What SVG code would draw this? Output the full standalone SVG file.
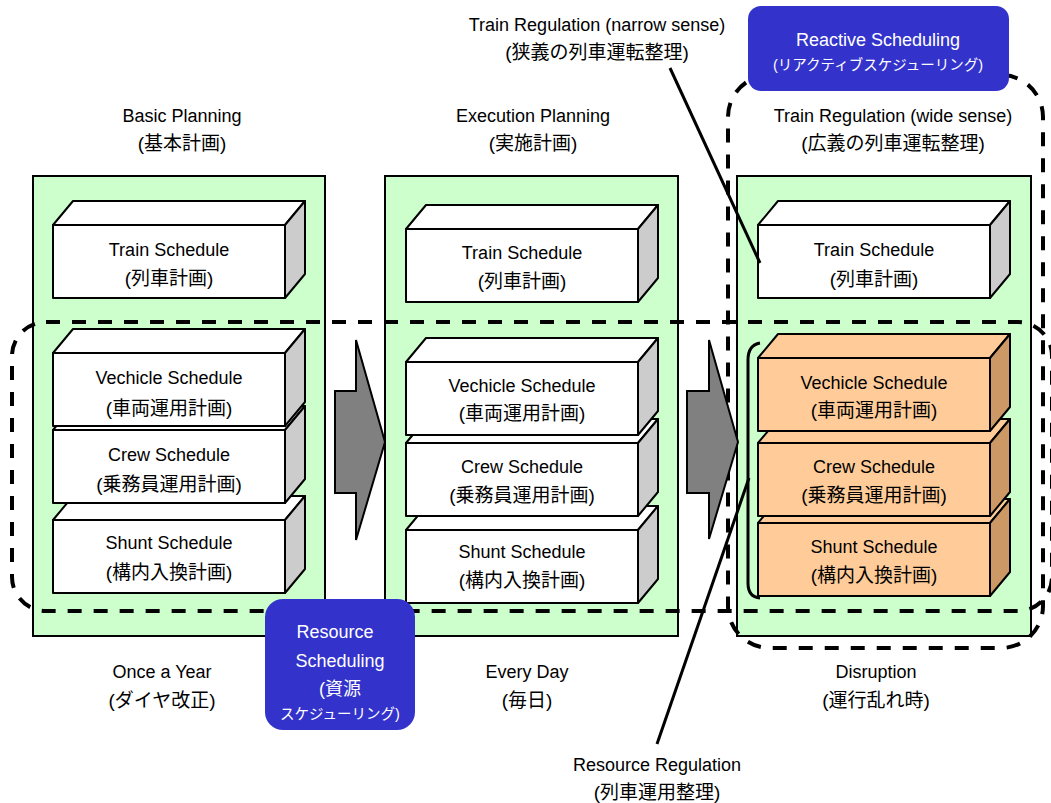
<svg xmlns="http://www.w3.org/2000/svg" xmlns:xlink="http://www.w3.org/1999/xlink" width="1051" height="803" viewBox="0 0 1051 803">
  <style>
    text { font-family: "Liberation Sans", "Noto Sans CJK JP", sans-serif; font-size: 18px; fill: #000; text-anchor: middle; }
    .jp { font-size: 19px; }
    .inv { fill: #fff; }
    .sm { font-size: 14.5px; }
    .panel { fill: #ccffcc; stroke: #000; stroke-width: 2; }
    .front, .top, .side { stroke: #000; stroke-width: 2; stroke-linejoin: round; }
    .front, .top { fill: #fff; }
    .side { fill: #cccccc; }
    .front-o, .top-o { fill: #ffcc99; stroke: #000; stroke-width: 2; stroke-linejoin: round; }
    .side-o { fill: #cc9966; stroke: #000; stroke-width: 2; stroke-linejoin: round; }
    .dash { fill: none; stroke: #000; stroke-width: 4; stroke-dasharray: 14 12; }
    .arrow { fill: #808080; stroke: #000; stroke-width: 2; stroke-linejoin: miter; }
    .line { fill: none; stroke: #000; stroke-width: 3; }
    .blue { fill: #3333cc; }
  </style>
  <defs>
    <!-- 3D schedule block, front face at origin -->
    <g id="cube">
      <polygon class="top" points="0,0 20,-24 252,-24 232,0"/>
      <polygon class="side" points="232,0 252,-24 252,49 232,73"/>
      <rect class="front" x="0" y="0" width="232" height="73"/>
    </g>
    <!-- same block, highlighted as rescheduled -->
    <g id="cube-o">
      <polygon class="top-o" points="0,0 20,-24 252,-24 232,0"/>
      <polygon class="side-o" points="232,0 252,-24 252,49 232,73"/>
      <rect class="front-o" x="0" y="0" width="232" height="73"/>
    </g>
  </defs>

  <!-- planning stage panels -->
  <g id="panel-basic"><rect class="panel" x="33" y="176" width="292" height="460"/></g>
  <g id="panel-execution"><rect class="panel" x="385" y="176" width="293" height="460"/></g>
  <g id="panel-disruption"><rect class="panel" x="737" y="176" width="294" height="460"/></g>

  <!-- scheduling scope outlines -->
  <g id="scope-wide-sense"><rect class="dash" x="728" y="75" width="315" height="573" rx="42" ry="42"/></g>
  <g id="scope-resource"><rect class="dash" x="12" y="322" width="1040" height="289" rx="34" ry="34"/></g>

  <!-- flow arrows -->
  <g id="arrow-1"><polygon class="arrow" points="335,391 356,391 356,340 385,442 356,540 356,493 335,493"/></g>
  <g id="arrow-2"><polygon class="arrow" points="687,391 709,391 709,340 738,442 709,539 709,493 687,493"/></g>

  <!-- Basic planning blocks -->
  <g id="basic-train" transform="translate(53,225)">
    <use xlink:href="#cube"/>
    <text x="116" y="31">Train Schedule</text>
    <text class="jp" x="116" y="60">(列車計画)</text>
  </g>
  <g id="basic-shunt" transform="translate(53,520)">
    <use xlink:href="#cube"/>
    <text x="116" y="29">Shunt Schedule</text>
    <text class="jp" x="116" y="59">(構内入換計画)</text>
  </g>
  <g id="basic-crew" transform="translate(53,430)">
    <use xlink:href="#cube"/>
    <text x="116" y="31">Crew Schedule</text>
    <text class="jp" x="116" y="61">(乗務員運用計画)</text>
  </g>
  <g id="basic-vehicle" transform="translate(53,353)">
    <use xlink:href="#cube"/>
    <text x="116" y="31">Vechicle Schedule</text>
    <text class="jp" x="116" y="62">(車両運用計画)</text>
  </g>

  <!-- Execution planning blocks -->
  <g id="exec-train" transform="translate(406,229)">
    <use xlink:href="#cube"/>
    <text x="116" y="30">Train Schedule</text>
    <text class="jp" x="116" y="59">(列車計画)</text>
  </g>
  <g id="exec-shunt" transform="translate(406,530)">
    <use xlink:href="#cube"/>
    <text x="116" y="28">Shunt Schedule</text>
    <text class="jp" x="116" y="57">(構内入換計画)</text>
  </g>
  <g id="exec-crew" transform="translate(406,443)">
    <use xlink:href="#cube"/>
    <text x="116" y="30">Crew Schedule</text>
    <text class="jp" x="116" y="59">(乗務員運用計画)</text>
  </g>
  <g id="exec-vehicle" transform="translate(406,362)">
    <use xlink:href="#cube"/>
    <text x="116" y="30">Vechicle Schedule</text>
    <text class="jp" x="116" y="58">(車両運用計画)</text>
  </g>

  <!-- Disruption blocks -->
  <g id="disr-train" transform="translate(758,225)">
    <use xlink:href="#cube"/>
    <text x="116" y="31">Train Schedule</text>
    <text class="jp" x="116" y="61">(列車計画)</text>
  </g>
  <g id="disr-shunt" transform="translate(758,523)">
    <use xlink:href="#cube-o"/>
    <text x="116" y="30">Shunt Schedule</text>
    <text class="jp" x="116" y="59">(構内入換計画)</text>
  </g>
  <g id="disr-crew" transform="translate(758,443)">
    <use xlink:href="#cube-o"/>
    <text x="116" y="30">Crew Schedule</text>
    <text class="jp" x="116" y="59">(乗務員運用計画)</text>
  </g>
  <g id="disr-vehicle" transform="translate(758,358)">
    <use xlink:href="#cube-o"/>
    <text x="116" y="31">Vechicle Schedule</text>
    <text class="jp" x="116" y="59">(車両運用計画)</text>
  </g>

  <!-- connectors and bracket -->
  <g id="connectors">
    <path class="line" d="M760,343 Q748,345 748,360 L748,583 Q748,597 760,598" stroke-width="4"/>
    <line class="line" x1="670" y1="68" x2="760" y2="263"/>
    <line class="line" x1="657" y1="744" x2="749" y2="478"/>
  </g>

  <!-- scheduling type badges -->
  <g id="reactive-scheduling">
    <rect class="blue" x="748" y="6" width="261" height="85" rx="13" ry="13"/>
    <text class="inv" x="878" y="46">Reactive Scheduling</text>
    <text class="inv sm" x="878" y="70">(リアクティブスケジューリング)</text>
  </g>
  <g id="resource-scheduling">
    <rect class="blue" x="265" y="599" width="150" height="131" rx="18" ry="18"/>
    <text class="inv" x="335" y="638">Resource</text>
    <text class="inv" x="340" y="667">Scheduling</text>
    <text class="inv" x="340" y="695">(資源</text>
    <text class="inv sm" x="340" y="719">スケジューリング)</text>
  </g>

  <!-- stage headings -->
  <g id="label-basic">
    <text x="182" y="122">Basic Planning</text>
    <text class="jp" x="182" y="150">(基本計画)</text>
  </g>
  <g id="label-execution">
    <text x="533" y="122">Execution Planning</text>
    <text class="jp" x="533" y="150">(実施計画)</text>
  </g>
  <g id="label-wide">
    <text x="893" y="122">Train Regulation (wide sense)</text>
    <text class="jp" x="893" y="150">(広義の列車運転整理)</text>
  </g>
  <g id="label-narrow">
    <text x="597" y="31">Train Regulation (narrow sense)</text>
    <text class="jp" x="597" y="59">(狭義の列車運転整理)</text>
  </g>

  <!-- timing labels -->
  <g id="label-year">
    <text x="162" y="678">Once a Year</text>
    <text class="jp" x="162" y="707">(ダイヤ改正)</text>
  </g>
  <g id="label-day">
    <text x="527" y="678">Every Day</text>
    <text class="jp" x="527" y="707">(毎日)</text>
  </g>
  <g id="label-disruption">
    <text x="876" y="678">Disruption</text>
    <text class="jp" x="876" y="707">(運行乱れ時)</text>
  </g>
  <g id="label-resource-regulation">
    <text x="657" y="771">Resource Regulation</text>
    <text class="jp" x="657" y="799">(列車運用整理)</text>
  </g>
</svg>
